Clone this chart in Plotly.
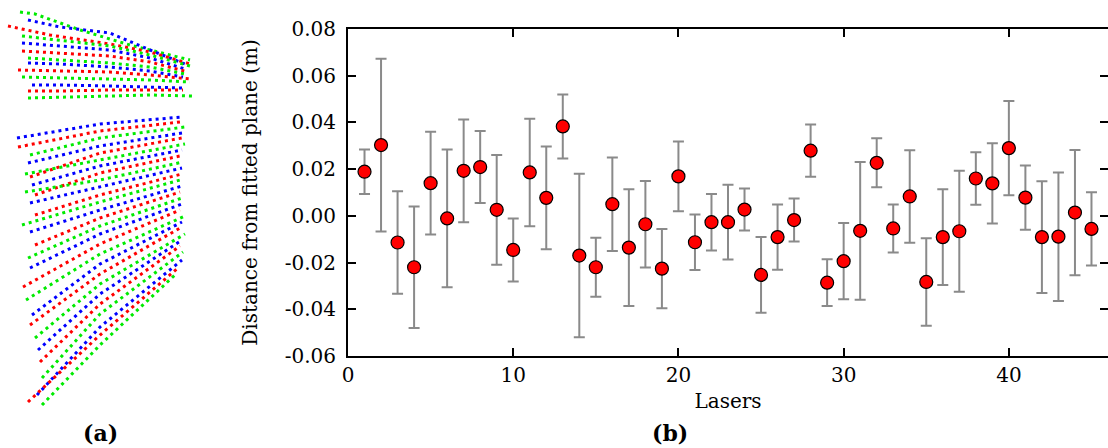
import plotly.graph_objects as go

# ---------------- Panel (b) data ----------------
lasers = list(range(1, 46))
distance = [0.0189, 0.0303, -0.0114, -0.0220, 0.0140, -0.0011, 0.0193, 0.0209, 0.0026, -0.0146,
            0.0186, 0.0077, 0.0383, -0.0170, -0.0220, 0.0050, -0.0136, -0.0036, -0.0226, 0.0169,
            -0.0113, -0.0027, -0.0027, 0.0027, -0.0253, -0.0091, -0.0018, 0.0279, -0.0286, -0.0194,
            -0.0064, 0.0227, -0.0054, 0.0083, -0.0283, -0.0091, -0.0066, 0.0160, 0.0139, 0.0290,
            0.0078, -0.0091, -0.0089, 0.0014, -0.0056]
std_err = [0.0095, 0.0370, 0.0219, 0.0260, 0.0220, 0.0295, 0.0220, 0.0154, 0.0235, 0.0135,
           0.0230, 0.0220, 0.0137, 0.0350, 0.0126, 0.0200, 0.0250, 0.0185, 0.0170, 0.0149,
           0.0119, 0.0121, 0.0160, 0.0090, 0.0162, 0.0140, 0.0092, 0.0112, 0.0100, 0.0163,
           0.0295, 0.0105, 0.0103, 0.0198, 0.0187, 0.0205, 0.0259, 0.0112, 0.0172, 0.0202,
           0.0138, 0.0239, 0.0275, 0.0268, 0.0157]
x_ticks = [0, 10, 20, 30, 40]
y_ticks = [-0.06, -0.04, -0.02, 0.00, 0.02, 0.04, 0.06, 0.08]
y_tick_labels = ["-0.06", "-0.04", "-0.02", "0.00", "0.02", "0.04", "0.06", "0.08"]

# ---------------- Panel (a) data: scan lines (image coords) ----------------
top_colors = ["g", "b", "r", "g", "b", "r", "g", "b", "r", "g", "b", "r", "g"]
top_x = [
    [20, 35, 80, 130, 190],
    [28, 60, 110, 150, 185],
    [8, 50, 110, 150, 190],
    [22, 60, 110, 150, 190],
    [22, 60, 110, 150, 185],
    [22, 60, 110, 150, 188],
    [28, 60, 110, 150, 185],
    [28, 60, 110, 150, 183],
    [18, 60, 110, 150, 190],
    [22, 60, 110, 150, 190],
    [32, 60, 110, 150, 182],
    [28, 60, 110, 150, 183],
    [28, 60, 110, 150, 192],
]
top_y = [
    [12, 14, 30, 45, 60],
    [20, 27, 33, 50, 64],
    [26, 35, 44, 52, 64],
    [36, 40, 46, 55, 66],
    [43, 46, 50, 58, 69],
    [51, 53, 56, 62, 72],
    [58, 60, 63, 67, 74],
    [63, 64, 67, 71, 77],
    [70, 71, 72, 75, 79],
    [77, 78, 79, 80, 82],
    [85, 85, 86, 87, 88],
    [91, 91, 90, 90, 90],
    [98, 97, 96, 95, 96],
]
bot_colors = ["b", "r", "g"] * 9
bot_x = [
    [17, 100, 182], [18, 100, 180], [30, 100, 185], [28, 100, 182], [30, 100, 182],
    [25, 100, 185], [32, 100, 182], [35, 100, 180], [25, 100, 183], [30, 100, 182],
    [35, 100, 182], [22, 100, 180], [30, 100, 182], [35, 100, 180], [28, 100, 182],
    [30, 100, 182], [23, 100, 180], [26, 100, 185], [32, 100, 182], [30, 100, 180],
    [35, 100, 185], [38, 100, 182], [40, 100, 180], [42, 100, 183], [37, 100, 182],
    [28, 100, 178], [42, 100, 176],
]
bot_y = [
    [138, 124, 117], [147, 131, 122], [155, 138, 127], [163, 146, 133], [177, 153, 138],
    [174, 160, 144], [185, 166, 150], [195, 173, 156], [192, 180, 162], [203, 187, 168],
    [215, 195, 174], [225, 202, 180], [232, 210, 186], [245, 218, 192], [258, 226, 198],
    [268, 234, 204], [287, 244, 210], [300, 254, 216], [315, 264, 222], [325, 274, 228],
    [338, 284, 234], [350, 294, 240], [362, 304, 246], [378, 314, 252], [395, 327, 260],
    [402, 335, 268], [405, 345, 274],
]
color_map = {"r": "rgb(255,0,0)", "g": "rgb(0,235,0)", "b": "rgb(0,0,255)"}

fig = go.Figure()

for cols, xs, ys in ((top_colors, top_x, top_y), (bot_colors, bot_x, bot_y)):
    for c, lx, ly in zip(cols, xs, ys):
        fig.add_trace(go.Scatter(
            x=lx, y=ly, mode="lines", xaxis="x", yaxis="y",
            line=dict(color=color_map[c], width=3, dash="3px,4px"),
            showlegend=False, hoverinfo="skip"))

fig.add_trace(go.Scatter(
    x=lasers, y=distance, mode="markers", xaxis="x2", yaxis="y2",
    marker=dict(size=13, color="rgb(255,0,0)", line=dict(color="black", width=1.2)),
    error_y=dict(type="data", array=std_err, visible=True, color="rgb(138,138,138)",
                 thickness=2, width=5.5),
    showlegend=False))

serif = "DejaVu Serif"
fig.update_layout(
    width=1108, height=448,
    margin=dict(l=0, r=0, t=0, b=0),
    paper_bgcolor="white", plot_bgcolor="white",
    font=dict(family=serif, size=20, color="black"),
    xaxis=dict(domain=[0, 200 / 1108], range=[0, 200], visible=False, fixedrange=True),
    yaxis=dict(domain=[0, 1], range=[448, 0], visible=False, fixedrange=True),
    xaxis2=dict(domain=[348 / 1108, 1.0], range=[0, 46], anchor="y2",
                tickvals=x_ticks, ticks="inside", ticklen=8, tickwidth=1.5,
                tickcolor="black", showline=True, linecolor="black", linewidth=2,
                mirror="ticks", showgrid=False, zeroline=False, automargin=False,
                tickfont=dict(family=serif, size=20),
                title=dict(text="Lasers", font=dict(family=serif, size=20), standoff=8)),
    yaxis2=dict(domain=[(448 - 356) / 448, (448 - 29) / 448], range=[-0.06, 0.08],
                anchor="x2", tickvals=y_ticks, ticktext=y_tick_labels,
                ticks="inside", ticklen=8, tickwidth=1.5, tickcolor="black",
                showline=True, linecolor="black", linewidth=2, mirror="ticks",
                showgrid=False, zeroline=False, automargin=False,
                ticklabelstandoff=6,
                tickfont=dict(family=serif, size=20),
                title=dict(text="Distance from fitted plane (m)",
                           font=dict(family=serif, size=20), standoff=22)),
    annotations=[
        dict(text="<b>(a)</b>", x=100 / 1108, y=(448 - 433) / 448, xref="paper", yref="paper",
             showarrow=False, font=dict(family=serif, size=22), xanchor="center", yanchor="middle"),
        dict(text="<b>(b)</b>", x=670 / 1108, y=(448 - 433) / 448, xref="paper", yref="paper",
             showarrow=False, font=dict(family=serif, size=22), xanchor="center", yanchor="middle"),
    ],
)

fig.write_html("out.html")
